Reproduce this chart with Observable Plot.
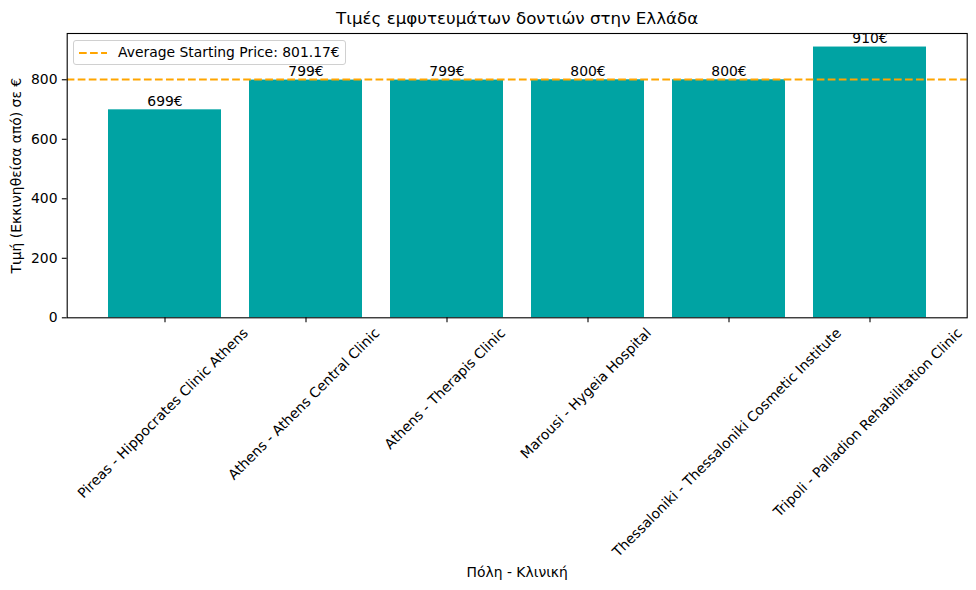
<!DOCTYPE html>
<html>
<head>
<meta charset="utf-8">
<script src="https://cdn.jsdelivr.net/npm/d3@7"></script>
<script src="https://cdn.jsdelivr.net/npm/@observablehq/plot@0.6"></script>
<style>
  body { margin: 0; background: white; font-family: "DejaVu Sans", sans-serif; }
  #wrap { position: relative; width: 976px; height: 590px; }
  #legend {
    position: absolute; left: 73px; top: 40px; width: 271px; height: 23px;
    border: 1px solid #d0d0d0; border-radius: 3px; background: rgba(255,255,255,0.8);
    font-size: 13.9px; color: black; box-sizing: content-box;
  }
  #legend svg { position: absolute; left: 0; top: 0; }
  #legend span { position: absolute; left: 44px; top: 3px; white-space: nowrap; }
</style>
</head>
<body>
<div id="wrap"></div>
<script>
const categories = [
  "Pireas - Hippocrates Clinic Athens",
  "Athens - Athens Central Clinic",
  "Athens - Therapis Clinic",
  "Marousi - Hygeia Hospital",
  "Thessaloniki - Thessaloniki Cosmetic Institute",
  "Tripoli - Palladion Rehabilitation Clinic"
];
const prices = [699, 799, 799, 800, 800, 910];
const yTicks = [0, 200, 400, 600, 800];
const title = "Τιμές εμφυτευμάτων δοντιών στην Ελλάδα";
const xLabel = "Πόλη - Κλινική";
const yLabel = "Τιμή (Εκκινηθείσα από) σε €";
const legendLabel = "Average Starting Price";

const data = categories.map((c, i) => ({cat: c, value: prices[i]}));
const avg = d3.mean(prices);
const yMax = d3.max(prices) * 1.05;

const chart = Plot.plot({
  width: 976,
  height: 590,
  marginLeft: 66.7,
  marginRight: 9.3,
  marginTop: 33,
  marginBottom: 272.7,
  style: {fontFamily: "DejaVu Sans", fontSize: "13.9px", color: "black", background: "white", overflow: "visible"},
  x: {type: "band", domain: categories, paddingInner: 0.2, paddingOuter: 0.29, align: 0.5, axis: null},
  y: {domain: [0, yMax], axis: null},
  marks: [
    Plot.barY(data, {x: "cat", y: "value", fill: "#00a3a3"}),
    Plot.ruleY([avg], {stroke: "#ffa500", strokeWidth: 2.08, strokeDasharray: "7.7,3.33"}),
    Plot.text(data, {x: "cat", y: "value", text: d => d.value + "€", lineAnchor: "bottom", dy: -4, fill: "black"}),
    Plot.axisY({ticks: yTicks, tickSize: 4.86, tickPadding: 4.86, label: null, fontSize: 13.9, strokeWidth: 1.1}),
    Plot.axisX({tickSize: 4.86, tickFormat: () => "", label: null, strokeWidth: 1.1}),
    Plot.text(categories, {x: d => d, frameAnchor: "bottom", rotate: -45, textAnchor: "middle", lineAnchor: "middle", className: "xlab", fill: "black"}),
    Plot.text([yLabel], {frameAnchor: "left", dx: -50.7, rotate: -90, textAnchor: "middle", lineAnchor: "middle", fill: "black"}),
    Plot.text([xLabel], {frameAnchor: "bottom", dy: 254.7, textAnchor: "middle", lineAnchor: "middle", fill: "black"}),
    Plot.text([title], {frameAnchor: "top", dy: -9.3, lineAnchor: "bottom", fontSize: 16.7, fill: "black"}),
    Plot.frame({stroke: "black", strokeWidth: 1.1})
  ]
});

const wrap = document.getElementById("wrap");
wrap.appendChild(chart);

// center rotated tick labels below the ticks (matplotlib-like ha=center)
const top0 = 4.86 + 4.86 - 2.5;
const h = 13.9 * 1.164;
d3.select(chart).selectAll("g.xlab text").each(function() {
  const L = this.getComputedTextLength();
  const off = top0 + (L + h) / (2 * Math.SQRT2);
  const t = this.getAttribute("transform") || "";
  this.setAttribute("transform", `translate(-2,${off}) ${t}`);
});

// legend
const leg = document.createElement("div");
leg.id = "legend";
leg.innerHTML = `<svg width="40" height="24"><line x1="5" x2="33" y1="12" y2="12" stroke="#ffa500" stroke-width="2.08" stroke-dasharray="7.7,3.33"/></svg><span>${legendLabel}: ${avg.toFixed(2)}€</span>`;
wrap.appendChild(leg);
</script>
</body>
</html>
